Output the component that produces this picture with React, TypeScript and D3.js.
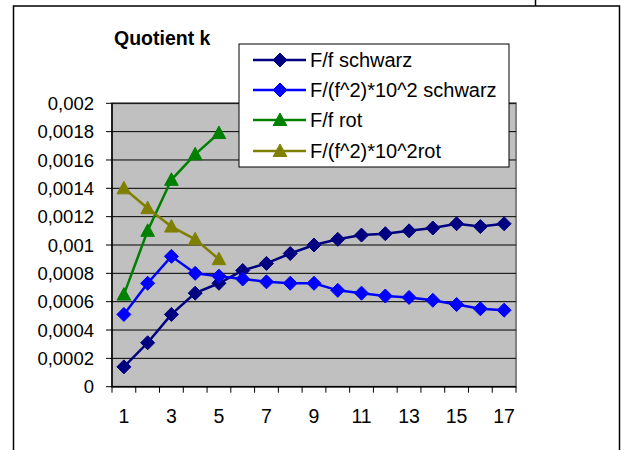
import React from "react";
import * as d3 from "d3";

const categories = [1, 2, 3, 4, 5, 6, 7, 8, 9, 10, 11, 12, 13, 14, 15, 16, 17];
const xTickLabels = [1, 3, 5, 7, 9, 11, 13, 15, 17];
const yTicks = [0, 0.0002, 0.0004, 0.0006, 0.0008, 0.001, 0.0012, 0.0014, 0.0016, 0.0018, 0.002];

const ffSchwarz = [0.00014, 0.00031, 0.00051, 0.00066, 0.00073, 0.00082, 0.00087, 0.00094, 0.001, 0.00104, 0.00107, 0.00108, 0.0011, 0.00112, 0.00115, 0.00113, 0.00115];
const ff2Schwarz = [0.00051, 0.00073, 0.00092, 0.0008, 0.00078, 0.00076, 0.00074, 0.00073, 0.00073, 0.00068, 0.00066, 0.00064, 0.00063, 0.00061, 0.00058, 0.00055, 0.00054];
const ffRot = [0.00065, 0.0011, 0.00146, 0.00164, 0.00179];
const ff2Rot = [0.0014, 0.00126, 0.00113, 0.00104, 0.0009];

const seriesNames = ["F/f schwarz", "F/(f^2)*10^2 schwarz", "F/f rot", "F/(f^2)*10^2rot"];
const seriesColors = ["#000080", "#0000FF", "#008000", "#808000"];
const seriesShapes = ["diamond", "diamond", "triangle", "triangle"];
const seriesData = [ffSchwarz, ff2Schwarz, ffRot, ff2Rot];

const FONT = "Arial, 'Liberation Sans', sans-serif";

const locale = d3.formatLocale({ decimal: ",", thousands: ".", grouping: [3], currency: ["", ""] });
const fmt = locale.format(".4~f");

function markerPath(shape: string): string {
  if (shape === "diamond") {
    const r = 7;
    return `M0,${-r}L${r},0L0,${r}L${-r},0Z`;
  }
  return `M0,-7L6.8,5.5L-6.8,5.5Z`;
}

export default function App() {
  const left = 112, right = 516, top = 103.3, bottom = 386.7;
  const x = d3.scaleBand<number>().domain(categories).range([left, right]);
  const y = d3.scaleLinear().domain([0, 0.002]).range([bottom, top]);
  const cx = (c: number) => (x(c) as number) + x.bandwidth() / 2;
  const line = d3
    .line<number>()
    .x((_, i) => cx(categories[i]))
    .y((d) => y(d));

  const boundaries = d3.range(categories.length + 1).map((i) => left + i * x.bandwidth());

  const legX = 239, legY = 44, legW = 270, legH = 123;
  const legRows = [60, 90, 120, 151];

  return (
    <svg width={621} height={450} style={{ position: "absolute", left: 0, top: 0, background: "#fff" }} fontFamily={FONT}>
      <rect x={0} y={0} width={621} height={450} fill="#fff" />
      {/* outer frame */}
      <path d="M13.5,460V6H619.5V460" fill="none" stroke="#000" strokeWidth={1.5} />
      <line x1={535.5} y1={0} x2={535.5} y2={6} stroke="#000" strokeWidth={1.5} />

      {/* title */}
      <text x={114} y={45} fontSize={19.5} fontWeight="bold" fill="#000">Quotient k</text>

      {/* plot area */}
      <rect x={left} y={top} width={right - left} height={bottom - top} fill="#C0C0C0" stroke="#808080" strokeWidth={2} />
      {yTicks.slice(1).map((t) => (
        <line key={t} x1={left} x2={right} y1={y(t)} y2={y(t)} stroke="#000" strokeWidth={1} />
      ))}
      {/* axes */}
      <line x1={left} x2={left} y1={top} y2={bottom} stroke="#000" strokeWidth={1.5} />
      <line x1={left} x2={right} y1={bottom} y2={bottom} stroke="#000" strokeWidth={1.5} />
      {yTicks.map((t) => (
        <g key={"yt" + t}>
          <line x1={left - 6} x2={left} y1={y(t)} y2={y(t)} stroke="#000" strokeWidth={1} />
          <text x={94} y={y(t)} dy="0.36em" textAnchor="end" fontSize={18.5} fill="#000">
            {fmt(t)}
          </text>
        </g>
      ))}
      {boundaries.map((b, i) => (
        <line key={"xt" + i} x1={b} x2={b} y1={bottom} y2={bottom + 6} stroke="#000" strokeWidth={1} />
      ))}
      {xTickLabels.map((c) => (
        <text key={"xl" + c} x={cx(c)} y={423} textAnchor="middle" fontSize={19.5} fill="#000">
          {c}
        </text>
      ))}

      {/* series */}
      {seriesData.map((data, si) => (
        <g key={"s" + si}>
          <path d={line(data) || ""} fill="none" stroke={seriesColors[si]} strokeWidth={2.5} />
          {data.map((v, i) => (
            <path
              key={i}
              d={markerPath(seriesShapes[si])}
              transform={`translate(${cx(categories[i])},${y(v)})`}
              fill={seriesColors[si]}
              stroke={seriesColors[si]}
              strokeWidth={1}
            />
          ))}
        </g>
      ))}

      {/* legend */}
      <rect x={legX} y={legY} width={legW} height={legH} fill="#fff" stroke="#000" strokeWidth={1} />
      {seriesNames.map((name, i) => (
        <g key={"lg" + i}>
          <line x1={253} x2={306} y1={legRows[i]} y2={legRows[i]} stroke={seriesColors[i]} strokeWidth={2.5} />
          <path d={markerPath(seriesShapes[i])} transform={`translate(280,${legRows[i]})`} fill={seriesColors[i]} stroke={seriesColors[i]} strokeWidth={1} />
          <text x={310} y={legRows[i]} dy="0.36em" fontSize={20} fill="#000">
            {name}
          </text>
        </g>
      ))}
    </svg>
  );
}
